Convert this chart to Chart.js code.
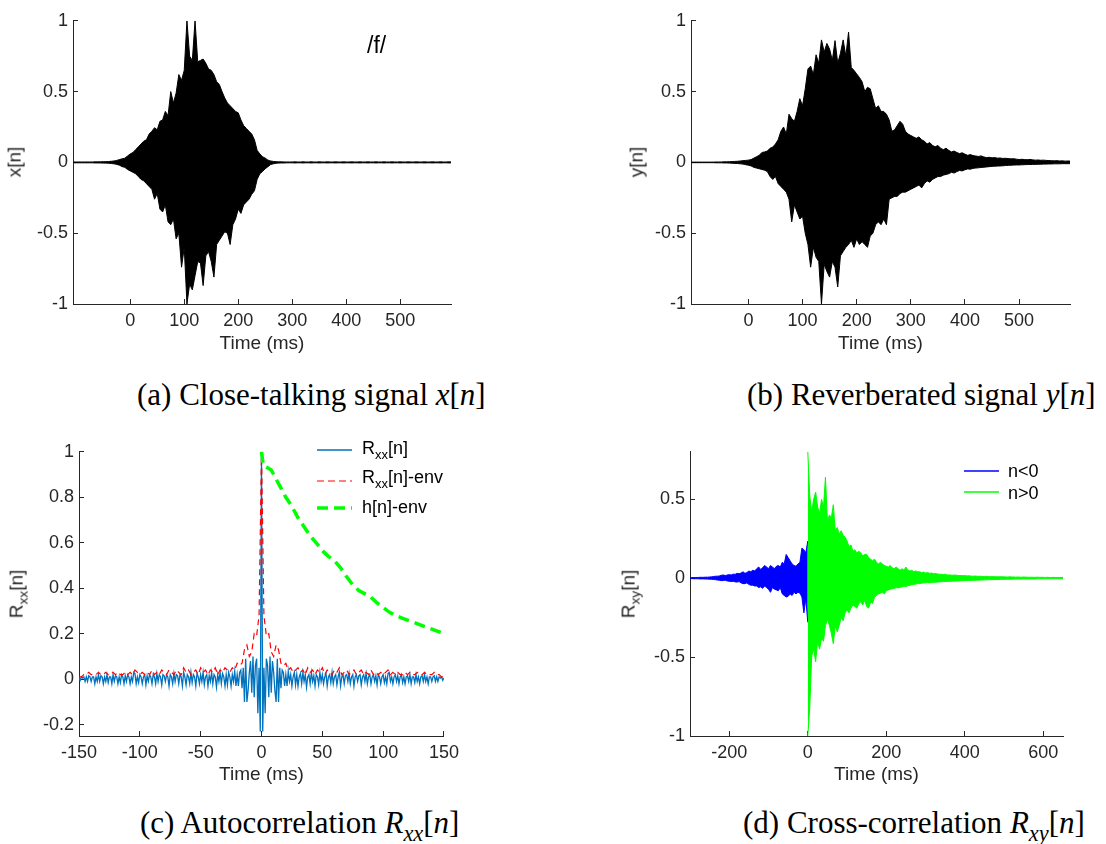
<!DOCTYPE html>
<html>
<head>
<meta charset="utf-8">
<script src="https://cdn.jsdelivr.net/npm/chart.js@4.4.1/dist/chart.umd.min.js"></script>
<style>
  body { margin: 0; background: #fff; }
  #fig { position: relative; width: 1106px; height: 844px; overflow: hidden; background: #fff;
         font-family: "Liberation Sans", Arial, sans-serif; color: #262626; }
  #fig canvas { position: absolute; }
  .cap { position: absolute; font-family: "Liberation Serif", serif; font-size: 31px; line-height: 31px;
         color: #000; white-space: nowrap; }
  .ylab { position: absolute; font-size: 19px; line-height: 22.8px; white-space: nowrap;
          transform: translate(-50%, -50%) rotate(-90deg); }
  .leg { position: absolute; font-size: 18px; line-height: 20px; white-space: nowrap; color: #000; }
  .sw { position: absolute; }
  sub { font-size: 0.72em; line-height: 0; vertical-align: -0.35em; }
</style>
</head>
<body>
<div id="fig">
  <canvas id="cx" width="470" height="370" style="left:0;top:0"></canvas>
  <canvas id="cy" width="470" height="370" style="left:618px;top:0"></canvas>
  <canvas id="crxx" width="470" height="370" style="left:0;top:431px"></canvas>
  <canvas id="crxy" width="470" height="370" style="left:611px;top:431px"></canvas>

  <div class="ylab" style="left:15px;top:162px">x[n]</div>
  <div class="ylab" style="left:637px;top:162px">y[n]</div>
  <div class="ylab" style="left:17px;top:594px">R<sub>xx</sub>[n]</div>
  <div class="ylab" style="left:629px;top:594px">R<sub>xy</sub>[n]</div>

  <div style="position:absolute;left:367px;top:33px;font-size:23px;line-height:24px;color:#000">/f/</div>

  <!-- legend, autocorrelation panel -->
  <svg class="sw" style="left:317px;top:446px" width="35" height="8"><line x1="0" y1="4" x2="35" y2="4" stroke="#0072BD" stroke-width="1.3"/></svg>
  <svg class="sw" style="left:317px;top:477px" width="35" height="8"><line x1="0" y1="4" x2="35" y2="4" stroke="#FF0000" stroke-width="1" stroke-dasharray="7 4"/></svg>
  <svg class="sw" style="left:317px;top:504px" width="35" height="8"><line x1="0" y1="4" x2="35" y2="4" stroke="#00FF00" stroke-width="3.5" stroke-dasharray="11 6"/></svg>
  <div class="leg" style="left:362px;top:438px">R<sub>xx</sub>[n]</div>
  <div class="leg" style="left:362px;top:467px">R<sub>xx</sub>[n]-env</div>
  <div class="leg" style="left:362px;top:497px">h[n]-env</div>

  <!-- legend, cross-correlation panel -->
  <svg class="sw" style="left:964px;top:467px" width="35" height="8"><line x1="0" y1="4" x2="35" y2="4" stroke="#0000FF" stroke-width="1.3"/></svg>
  <svg class="sw" style="left:964px;top:488px" width="35" height="8"><line x1="0" y1="4" x2="35" y2="4" stroke="#00FF00" stroke-width="1.3"/></svg>
  <div class="leg" style="left:1008px;top:461px">n&lt;0</div>
  <div class="leg" style="left:1008px;top:483px">n&gt;0</div>

  <div class="cap" style="left:137px;top:379px">(a) Close-talking signal <i>x</i>[<i>n</i>]</div>
  <div class="cap" style="left:747px;top:379px">(b) Reverberated signal <i>y</i>[<i>n</i>]</div>
  <div class="cap" style="left:140px;top:807px">(c) Autocorrelation <i>R<sub>xx</sub></i>[<i>n</i>]</div>
  <div class="cap" style="left:743px;top:807px">(d) Cross-correlation <i>R<sub>xy</sub></i>[<i>n</i>]</div>
</div>

<script>
// ---- close-talking x[n]: peak envelope, 5 ms steps from -105 ms ----
const xT0 = -105, xDt = 5;
const xUpper = [
  .003,.003,.003,.003,.003,.003,.003,.003,.004,.004,.004,.005,.005,.006,.008,
  .01,.014,.02,.025,.03,.045,
  .06,.07,.09,.11,.13,.15,
  .16,.2,.22,.245,.23,.29,
  .3,.36,.33,.5,.42,.49,
  .62,.58,.65,1.0,.75,.72,
  1.0,.71,.72,.73,.7,.66,
  .65,.62,.57,.55,.5,.455,
  .42,.4,.38,.36,.35,.3,
  .26,.24,.22,.2,.16,.085,
  .06,.04,.03,.016,.01,.007,
  .005,.004,.004,.003,.003,.003,
  .003,.004,.003,.003,.004,.003,.003,.004,.003,.003,
  .004,.003,.003,.004,.003,.003,.004,.003,.003,.004,
  .003,.003,.004,.003,.003,.004,.003,.003,.004,.003,
  .003,.004,.003,.003,.004,.003,.003,.004,.003,.003,
  .004,.003,.003,.004,.003,.003,.004,.003,.003,.004,
  .003,.003,.004,.003,.003,.004,.003,.003,.004,.003
];
const xLower = [
  -.003,-.003,-.003,-.003,-.003,-.003,-.003,-.003,-.004,-.004,-.004,-.005,-.005,-.006,-.008,
  -.01,-.014,-.02,-.03,-.035,-.05,
  -.06,-.07,-.08,-.1,-.12,-.13,
  -.15,-.17,-.19,-.26,-.22,-.33,
  -.35,-.3,-.42,-.44,-.4,-.54,
  -.5,-.74,-.6,-1.0,-.86,-.9,
  -.8,-.7,-.71,-.87,-.66,-.63,
  -.7,-.81,-.58,-.55,-.52,-.49,
  -.5,-.58,-.44,-.4,-.33,-.36,
  -.3,-.28,-.26,-.225,-.2,-.12,
  -.08,-.064,-.045,-.03,-.015,-.01,
  -.006,-.005,-.004,-.004,-.003,-.003,
  -.003,-.004,-.003,-.003,-.004,-.003,-.003,-.004,-.003,-.003,
  -.004,-.003,-.003,-.004,-.003,-.003,-.004,-.003,-.003,-.004,
  -.003,-.003,-.004,-.003,-.003,-.004,-.003,-.003,-.004,-.003,
  -.003,-.004,-.003,-.003,-.004,-.003,-.003,-.004,-.003,-.003,
  -.004,-.003,-.003,-.004,-.003,-.003,-.004,-.003,-.003,-.004,
  -.003,-.003,-.004,-.003,-.003,-.004,-.003,-.003,-.004,-.003
];

// ---- reverberated y[n]: same time grid ----
const yUpper = [
  .002,.002,.002,.002,.002,.002,.002,.002,.002,.003,.003,.003,.004,.004,.005,
  .006,.007,.008,.01,.012,.014,
  .016,.02,.03,.04,.05,.07,
  .074,.08,.1,.108,.13,.16,
  .22,.25,.2,.34,.31,.29,
  .36,.45,.4,.52,.66,.68,
  .62,.76,.7,.865,.78,.84,
  .8,.72,.86,.7,.77,.865,
  .75,.92,.67,.65,.625,.6,
  .57,.5,.53,.52,.45,.38,
  .4,.36,.36,.34,.3,.22,
  .23,.26,.29,.27,.22,.2,
  .19,.18,.17,.18,.16,.15,
  .13,.14,.12,.11,.12,.1,
  .09,.1,.085,.074,.08,.07,
  .062,.068,.058,.05,.055,.048,
  .045,.042,.046,.038,.034,.036,
  .032,.034,.03,.031,.028,.029,
  .027,.025,.026,.023,.02,.022,
  .02,.019,.021,.018,.016,.017,
  .015,.016,.014,.013,.012,.011,
  .012,.01,.011,.009,.01,.009
];
const yLower = [
  -.002,-.002,-.002,-.002,-.002,-.002,-.002,-.002,-.002,-.003,-.003,-.003,-.004,-.004,-.005,
  -.006,-.007,-.008,-.01,-.012,-.016,
  -.02,-.025,-.035,-.04,-.045,-.05,
  -.055,-.065,-.1,-.12,-.1,-.15,
  -.17,-.19,-.21,-.26,-.42,-.3,
  -.35,-.4,-.38,-.5,-.58,-.74,
  -.6,-.67,-.7,-1.0,-.72,-.77,
  -.81,-.7,-.74,-.88,-.66,-.63,
  -.6,-.58,-.55,-.6,-.54,-.58,
  -.56,-.58,-.6,-.52,-.5,-.44,
  -.42,-.44,-.4,-.44,-.26,-.25,
  -.24,-.24,-.22,-.21,-.21,-.2,
  -.19,-.18,-.17,-.16,-.18,-.15,
  -.13,-.14,-.12,-.11,-.1,-.1,
  -.09,-.085,-.08,-.07,-.075,-.065,
  -.057,-.06,-.052,-.046,-.048,-.042,
  -.04,-.038,-.036,-.034,-.032,-.03,
  -.028,-.027,-.026,-.025,-.024,-.022,
  -.021,-.02,-.019,-.018,-.018,-.017,
  -.016,-.015,-.015,-.014,-.014,-.013,
  -.013,-.012,-.012,-.011,-.011,-.01,
  -.01,-.01,-.009,-.009,-.009,-.009
];

// ---- autocorrelation: R_xx at 1 ms lags, its envelope at 2 ms, h[n] envelope ----
const rxxT0 = -150, rxxDt = 1;
const rxx = [
  .005,
  -.005,.01,.005,.01,-.01,.01,-.01,.015,.01,-.01,
  .01,.01,-.02,.01,-.01,.02,-.01,.015,.01,-.02,
  .01,-.01,.02,-.015,.01,.01,-.02,.02,-.01,.015,
  .01,-.02,.01,-.015,.02,.01,-.02,.015,-.01,.02,
  .01,-.02,.01,-.01,.03,.025,-.02,.01,-.015,.02,
  .01,-.02,.01,.02,-.025,.015,-.01,.02,.01,-.02,
  .02,.01,-.02,.025,-.01,.02,.01,-.025,.02,.015,
  -.01,.02,.01,-.03,.02,.01,-.02,.025,-.01,.02,
  .015,-.02,.02,.01,-.03,.03,.01,-.025,.02,.01,
  -.02,.03,-.015,.02,.01,-.03,.025,.01,-.02,.02,
  -.01,.03,-.025,.01,.02,-.03,.015,-.01,.03,-.02,
  .02,.01,-.035,.02,-.01,.03,-.02,.025,.01,-.03,
  .02,-.025,.03,.01,-.03,.02,-.01,.035,-.03,.02,
  -.03,.03,.04,-.04,.05,-.1,.09,-.1,-.05,.03,
  .08,-.06,.1,-.08,.06,.09,-.15,.05,-.23,
  1.0,
  -.23,.05,-.15,.09,.06,-.08,.1,-.06,.08,
  .03,-.05,-.1,.09,-.1,.05,-.04,.04,.03,-.03,
  .02,-.03,.035,-.01,.02,-.03,.01,.03,-.025,.02,
  -.03,.01,.025,-.02,.03,-.01,.02,-.035,.01,.02,
  -.02,.03,-.01,.015,-.03,.02,.01,-.025,.03,-.01,
  .02,-.02,.01,.025,-.03,.01,.02,-.015,.03,-.02,
  .01,.02,-.025,.01,.03,-.03,.01,.02,-.02,.015,
  .02,-.01,.025,-.02,.01,.02,-.03,.01,.02,-.01,
  .015,.02,-.025,.01,.02,-.01,.025,-.02,.01,.02,
  -.02,.01,.02,-.01,.015,-.025,.02,.01,-.02,.01,
  .02,-.015,.01,-.02,.025,.03,-.01,.01,-.02,.01,
  .02,-.01,.015,-.02,.01,.02,-.015,.01,-.02,.01,
  .015,-.01,.02,-.02,.01,.01,-.015,.02,-.01,.01,
  -.02,.01,.015,-.01,.02,-.01,.01,-.02,.01,.01,
  -.01,.01,.015,-.01,.01,-.01,.01,.005,.01,-.005,
  .005
];
const envT0 = -150, envDt = 2;
const rxxEnv = [
  .01,.01,.02,.02,.03,.02,
  .02,.02,.03,.02,.02,.03,.02,.02,.03,.02,
  .03,.02,.02,.03,.02,.03,.02,.04,.03,.02,
  .03,.02,.03,.02,.04,.02,.03,.02,.04,.03,
  .02,.04,.03,.02,.04,.03,.02,.05,.03,.04,
  .02,.03,.04,.02,.05,.03,.04,.02,.04,.03,
  .05,.02,.04,.03,.05,.04,.03,.05,.04,.07,
  .06,.07,.13,.15,.1,.12,.2,.19,.28,
  1.0,
  .28,.19,.2,.12,.1,.15,.13,.07,.06,
  .07,.04,.05,.03,.04,.05,.03,.04,.02,.05,
  .03,.04,.02,.04,.03,.05,.02,.04,.03,.02,
  .04,.03,.05,.02,.03,.04,.02,.03,.04,.02,
  .03,.04,.02,.03,.02,.04,.02,.03,.02,.03,
  .02,.03,.04,.02,.03,.02,.03,.02,.02,.03,
  .02,.03,.02,.02,.03,.02,.02,.03,.02,.02,
  .02,.03,.02,.02,.01,.01
];
const hLag = [0, 1.5, 5, 8, 12, 16, 20, 25, 30, 35, 40, 45, 50, 55, 60, 65, 70, 75, 80, 85,
              90, 95, 100, 105, 110, 115, 120, 125, 130, 135, 140, 145, 150];
const hEnv = [1, .94, .93, .92, .88, .84, .8, .76, .71, .67, .63, .6, .565, .54, .52, .49, .45, .415, .39, .375,
              .36, .335, .315, .295, .28, .27, .26, .25, .24, .23, .22, .21, .2];

// ---- cross-correlation R_xy: negative lags (-300..0) and positive lags (0..650), 5 ms ----
const negT0 = -300, posT0 = 0, rxyDt = 5;
const negUpper = [
  .003,.003,.004,.004,.004,.005,
  .005,.005,.006,.006,.007,.008,
  .01,.012,.012,.014,.018,.02,
  .016,.02,.022,.02,.025,.024,
  .03,.028,.032,.04,.03,.035,
  .045,.04,.05,.045,.06,.07,
  .055,.065,.08,.07,.06,.08,
  .07,.06,.075,.08,.07,.1,
  .09,.15,.13,.11,.09,.08,
  .075,.09,.1,.19,.18,.16,
  .235
];
const negLower = [
  -.003,-.003,-.004,-.004,-.004,-.005,
  -.005,-.005,-.006,-.006,-.007,-.008,
  -.009,-.01,-.012,-.014,-.016,-.015,
  -.014,-.018,-.02,-.022,-.02,-.024,
  -.025,-.022,-.03,-.035,-.035,-.03,
  -.04,-.045,-.045,-.05,-.05,-.06,
  -.055,-.065,-.05,-.06,-.07,-.09,
  -.06,-.07,-.075,-.08,-.06,-.1,
  -.11,-.12,-.115,-.1,-.11,-.09,
  -.1,-.09,-.095,-.12,-.22,-.13,
  -.28
];
const posUpper = [
  .8,.52,.42,.5,.545,.45,
  .41,.5,.45,.64,.36,.4,
  .38,.465,.3,.32,.28,.3,
  .27,.26,.235,.2,.21,.17,
  .18,.16,.17,.16,.14,.15,
  .15,.13,.12,.11,.12,.1,
  .09,.1,.09,.08,.075,.07,
  .08,.065,.06,.07,.06,.05,
  .06,.05,.07,.05,.045,.05,
  .04,.045,.04,.04,.035,.038,
  .032,.035,.03,.032,.028,.03,
  .026,.025,.024,.022,.024,.02,
  .02,.019,.018,.02,.017,.016,
  .016,.015,.016,.014,.015,.013,
  .012,.013,.012,.011,.012,.01,
  .01,.011,.01,.009,.01,.009,
  .009,.008,.009,.008,.008,.007,
  .007,.008,.007,.007,.006,.007,
  .006,.006,.007,.006,.006,.005,
  .006,.005,.005,.006,.005,.005,
  .005,.004,.005,.004,.004,.005,
  .004,.004,.004,.004,.004
];
const posLower = [
  -1.0,-.82,-.49,-.45,-.53,-.4,
  -.45,-.38,-.4,-.3,-.26,-.3,
  -.35,-.415,-.3,-.34,-.3,-.25,
  -.27,-.22,-.2,-.22,-.19,-.17,
  -.18,-.19,-.16,-.15,-.17,-.14,
  -.18,-.19,-.15,-.16,-.12,-.11,
  -.1,-.095,-.09,-.1,-.08,-.075,
  -.07,-.068,-.065,-.06,-.062,-.058,
  -.055,-.05,-.054,-.048,-.045,-.042,
  -.04,-.038,-.033,-.035,-.032,-.03,
  -.03,-.028,-.029,-.027,-.026,-.027,
  -.025,-.024,-.023,-.022,-.022,-.021,
  -.02,-.02,-.019,-.019,-.018,-.018,
  -.017,-.017,-.016,-.016,-.015,-.015,
  -.014,-.014,-.013,-.013,-.012,-.012,
  -.011,-.011,-.01,-.01,-.01,-.009,
  -.009,-.009,-.008,-.008,-.008,-.007,
  -.007,-.007,-.007,-.006,-.006,-.006,
  -.006,-.006,-.005,-.005,-.005,-.005,
  -.005,-.005,-.005,-.004,-.004,-.004,
  -.004,-.004,-.004,-.004,-.004,-.004,
  -.004,-.004,-.004,-.004,-.004
];

// ---- axis ranges and tick values ----
const sigX = { min: -106, max: 594, ticks: [0, 100, 200, 300, 400, 500] };
const sigY = { min: -1, max: 1, ticks: [-1, -0.5, 0, 0.5, 1] };
const rxxX = { min: -150, max: 150, ticks: [-150, -100, -50, 0, 50, 100, 150] };
const rxxY = { min: -0.25, max: 1, ticks: [-0.2, 0, 0.2, 0.4, 0.6, 0.8, 1] };
const rxyX = { min: -300, max: 650, ticks: [-200, 0, 200, 400, 600] };
const rxyY = { min: -1, max: 0.8, ticks: [-1, -0.5, 0, 0.5] };

const AX = '#262626';
const FONT = 'Liberation Sans';

function pts(t0, dt, vals) { return vals.map((v, i) => ({ x: t0 + i * dt, y: v })); }
function pairs(xs, ys) { return xs.map((x, i) => ({ x: x, y: ys[i] })); }

// filled band between the upper and lower peak envelopes of a dense signal
function band(upper, lower, color, t0, dt) {
  return [
    { data: pts(t0, dt, upper), borderColor: color, backgroundColor: color, borderWidth: 1, fill: '+1' },
    { data: pts(t0, dt, lower), borderColor: color, backgroundColor: color, borderWidth: 1, fill: false }
  ];
}

function axis(rng, size, isX) {
  return {
    type: 'linear', min: rng.min, max: rng.max,
    afterBuildTicks: s => { s.ticks = rng.ticks.map(v => ({ value: v })); },
    afterFit: s => { if (isX) s.height = size; else s.width = size; },
    grid: { display: true, drawOnChartArea: false, drawTicks: true, tickLength: -5, color: AX, lineWidth: 1 },
    border: { display: true, color: AX, width: 1 },
    ticks: {
      autoSkip: false, maxRotation: 0, color: AX, padding: isX ? 11 : 10,
      font: { family: FONT, size: 18 },
      callback: v => String(v)
    },
    title: isX ? { display: true, text: 'Time (ms)', color: AX, font: { family: FONT, size: 19 },
                   padding: { top: 0, bottom: 15 } } : { display: false }
  };
}

function panel(id, datasets, xr, yr, yWidth, xHeight, pad) {
  return new Chart(document.getElementById(id), {
    type: 'line',
    data: { datasets: datasets },
    options: {
      responsive: false, animation: false, devicePixelRatio: 1,
      layout: { padding: pad },
      elements: { point: { radius: 0 }, line: { tension: 0, borderJoinStyle: 'miter' } },
      plugins: { legend: { display: false }, tooltip: { enabled: false } },
      scales: { x: axis(xr, xHeight, true), y: axis(yr, yWidth, false) }
    }
  });
}

panel('cx', band(xUpper, xLower, '#000000', xT0, xDt), sigX, sigY, 73, 66,
      { left: 0, top: 14, right: 19, bottom: 0 });
panel('cy', band(yUpper, yLower, '#000000', xT0, xDt), sigX, sigY, 73, 66,
      { left: 0, top: 14, right: 18, bottom: 0 });

panel('crxx', [
  { data: pairs(hLag, hEnv), borderColor: '#00FF00', borderWidth: 3.5, borderDash: [11, 6], fill: false },
  { data: pts(envT0, envDt, rxxEnv), borderColor: '#FF0000', borderWidth: 1.2, borderDash: [6, 4], fill: false },
  { data: pts(rxxT0, rxxDt, rxx), borderColor: '#0072BD', borderWidth: 1.3, fill: false }
], rxxX, rxxY, 79, 65, { left: 0, top: 14, right: 19, bottom: 0 });

panel('crxy', band(posUpper, posLower, '#00FF00', posT0, rxyDt)
        .concat(band(negUpper, negLower, '#0000FF', negT0, rxyDt)),
      rxyX, rxyY, 79, 65, { left: 0, top: 14, right: 18, bottom: 0 });
</script>
</body>
</html>
